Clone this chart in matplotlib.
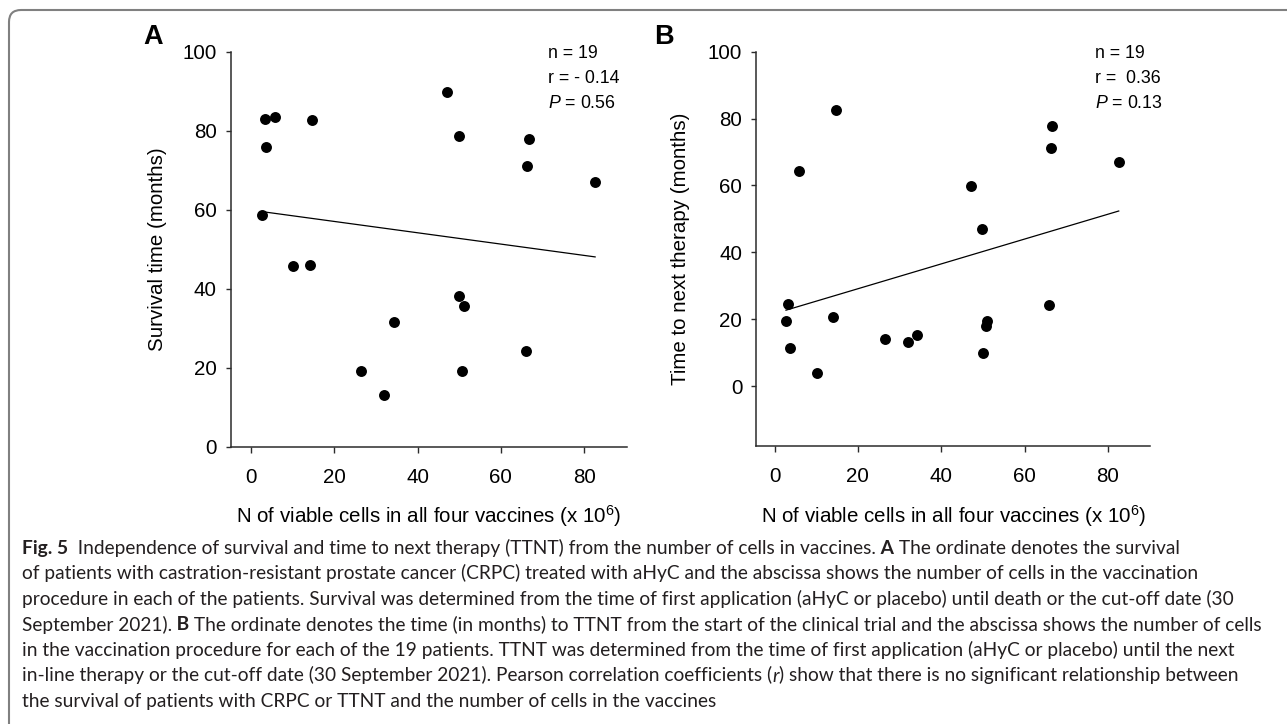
import numpy as np
import matplotlib
matplotlib.use('Agg')
import matplotlib.pyplot as plt
from matplotlib.patches import FancyBboxPatch
from matplotlib.transforms import IdentityTransform

# cells in all four vaccines (x 10^6), one value per patient
cells = [47.1, 3.3, 5.8, 14.7, 3.65, 49.9, 66.7, 66.3, 82.6, 2.75,
         10.2, 14.1, 50.0, 51.1, 34.3, 65.9, 26.4, 50.7, 32.0]
# panel A: survival time (months)
survival = [89.9, 82.9, 83.4, 82.6, 75.8, 78.6, 77.8, 71.1, 67.0, 58.7,
            45.8, 46.1, 38.2, 35.6, 31.5, 24.3, 19.2, 19.2, 13.2]
# panel B: time to next therapy (months)
ttnt = [59.9, 24.5, 64.2, 82.5, 11.4, 47.1, 77.7, 71.1, 67.0, 19.4,
        3.8, 20.8, 9.8, 19.5, 15.4, 24.3, 14.1, 18.1, 13.2]

stats_a = ['n = 19', 'r = - 0.14', r'$\mathit{P}$ = 0.56']
stats_b = ['n = 19', 'r =  0.36', r'$\mathit{P}$ = 0.13']
xticks = [0, 20, 40, 60, 80]
yticks = [0, 20, 40, 60, 80, 100]

xlab = 'N of viable cells in all four vaccines (x $10^{6}$)'

caption = [
    [('Fig. 5', 'bold', 'normal'),
     ('  Independence of survival and time to next therapy (TTNT) from the number of cells in vaccines.', 'normal', 'normal'),
     (' A', 'bold', 'normal'), (' The ordinate denotes the survival', 'normal', 'normal')],
    [('of patients with castration-resistant prostate cancer (CRPC) treated with aHyC and the abscissa shows the number of cells in the vaccination', 'normal', 'normal')],
    [('procedure in each of the patients. Survival was determined from the time of first application (aHyC or placebo) until death or the cut-off date (30', 'normal', 'normal')],
    [('September 2021).', 'normal', 'normal'), (' B', 'bold', 'normal'),
     (' The ordinate denotes the time (in months) to TTNT from the start of the clinical trial and the abscissa shows the number of cells', 'normal', 'normal')],
    [('in the vaccination procedure for each of the 19 patients. TTNT was determined from the time of first application (aHyC or placebo) until the next', 'normal', 'normal')],
    [('in-line therapy or the cut-off date (30 September 2021). Pearson correlation coefficients (', 'normal', 'normal'),
     ('r', 'normal', 'italic'),
     (') show that there is no significant relationship between', 'normal', 'normal')],
    [('the survival of patients with CRPC or TTNT and the number of cells in the vaccines', 'normal', 'normal')],
]

plt.rcParams['font.family'] = 'Liberation Sans'
plt.rcParams['mathtext.fontset'] = 'custom'
plt.rcParams['mathtext.rm'] = 'Liberation Sans'
plt.rcParams['mathtext.it'] = 'Liberation Sans:italic'
plt.rcParams['mathtext.default'] = 'regular'

W, H = 1287, 724
fig = plt.figure(figsize=(W / 100, H / 100), dpi=100)

def px(x, y):
    return x / W, 1 - y / H

def panel(box, y, ylim, xlim, ylabel, stats, letter, letter_x, stats_x, ylabel_x):
    left, top, right, bottom = box
    ax = fig.add_axes([left / W, 1 - bottom / H, (right - left) / W, (bottom - top) / H])
    ax.scatter(cells, y, s=62, color='black', zorder=3, linewidths=0)
    # least squares line over the range of the data
    k, b = np.polyfit(cells, y, 1)
    xx = np.array([min(cells), max(cells)])
    ax.plot(xx, k * xx + b, color='black', lw=0.9)
    ax.set_xlim(*xlim)
    ax.set_ylim(*ylim)
    ax.set_xticks(xticks)
    ax.set_yticks(yticks)
    for s in ['top', 'right']:
        ax.spines[s].set_visible(False)
    for s in ['left', 'bottom']:
        ax.spines[s].set_linewidth(1.1)
        ax.spines[s].set_color('#2b2b2b')
    ax.tick_params(axis='x', length=4.3, width=1.0, color='#2b2b2b', pad=11, labelsize=14.8)
    ax.tick_params(axis='y', length=3.6, width=1.0, color='#2b2b2b', pad=6.3, labelsize=14.8)
    ax.set_xlabel(xlab, fontsize=14.8, va='center')
    ax.xaxis.set_label_coords(0.5, -(515.7 - bottom) / (bottom - top))
    ax.set_ylabel(ylabel, fontsize=14.8, va='center')
    ax.yaxis.set_label_coords((ylabel_x - left) / (right - left), 0.5)
    for i, s in enumerate(stats):
        fig.text(*px(stats_x, 54 + 24.8 * i), s, fontsize=12.8, va='center', ha='left')
    fig.text(*px(letter_x, 37.5), letter, fontsize=19.5, fontweight='bold', va='center', ha='left')
    return ax

panel((230.5, 51.7, 626.8, 446.7), survival, (0, 100), (-4.87, 90.2),
      'Survival time (months)', stats_a, 'A', 143, 548.4, 157.5)
panel((756.0, 51.7, 1150.4, 445.7), ttnt, (-17.8, 100), (-4.44, 90.2),
      'Time to next therapy (months)', stats_b, 'B', 654, 1095, 680)

# caption, sized so the longest line spans the same width as the original
cap_font = 'Lato'
cap_color = '#231f20'
r = fig.canvas.get_renderer()
probe = fig.text(0, 0, caption[2][0][0], fontsize=14, family=cap_font)
w = probe.get_window_extent(r).width
probe.remove()
cap_size = 14 * 1221 / w

for i, line in enumerate(caption):
    x = 22
    yb = 554 + 25.5 * i
    for text, weight, style in line:
        t = fig.text(*px(x, yb), text, fontsize=cap_size, family=cap_font,
                     fontweight=weight, fontstyle=style, color=cap_color,
                     va='baseline', ha='left')
        x = t.get_window_extent(r).x1

# frame round the figure, open to the right and bottom
frame = FancyBboxPatch((9, -30), W + 30, H - 10 + 30,
                       boxstyle='round,pad=0,rounding_size=12',
                       transform=IdentityTransform(), fill=False,
                       edgecolor='#808080', lw=1.5)
fig.add_artist(frame)

fig.savefig('out.png', dpi=100)
